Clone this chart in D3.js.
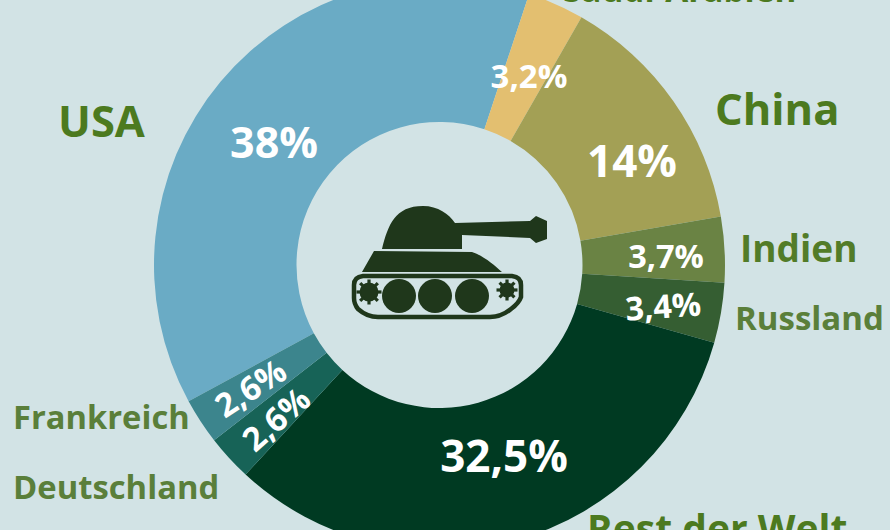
<!DOCTYPE html>
<html><head><meta charset="utf-8">
<script src="https://cdn.jsdelivr.net/npm/d3@7/dist/d3.min.js"></script>
<style>html,body{margin:0;padding:0;background:#d2e3e5;overflow:hidden}svg{display:block}text{font-family:"Open Sans",sans-serif}</style>
</head><body><svg id="c" width="890" height="530"></svg>
<script>
const categories = ["USA","Saudi-Arabien","China","Indien","Russland","Rest der Welt","Deutschland","Frankreich"];
const shares = [38,3.2,14,3.7,3.4,32.5,2.6,2.6];
const percentLabels = ["38%","3,2%","14%","3,7%","3,4%","32,5%","2,6%","2,6%"];
const colors = ["#6aabc5","#e3bf70","#a3a055","#6a8344","#355e32","#003a22","#176357","#3c858d"];

const W=890,H=530,cx=439.5,cy=265,outer=285.5,inner=143;
const svg=d3.select("#c");
svg.append("rect").attr("width",W).attr("height",H).attr("fill","#d2e3e5");
const startA=(18.3-136.8)*Math.PI/180;
const pie=d3.pie().sort(null).value(d=>d).startAngle(startA).endAngle(startA+2*Math.PI);
const arc=d3.arc().innerRadius(inner).outerRadius(outer);
const g=svg.append("g").attr("transform",`translate(${cx},${cy})`);
g.selectAll("path").data(pie(shares)).join("path").attr("d",arc).attr("fill",(d,i)=>colors[i]);

// percent labels: [x, y, size, rotation]
const pctLayout=[[274,158,43,0],[529,88,33,0],[632,177,44,0],[666,268,32.5,0],[664,318,32.5,-4],[504,472,44,0],[257,398,33,-33],[284,428,33,-41]];
svg.append("g").selectAll("text").data(percentLabels).join("text")
 .attr("text-anchor","middle").attr("font-weight",700).attr("fill","#fff")
 .attr("font-size",(d,i)=>pctLayout[i][2])
 .attr("transform",(d,i)=>`translate(${pctLayout[i][0]},${pctLayout[i][1]}) rotate(${pctLayout[i][3]})`)
 .text(d=>d);

// category labels: [x, y, size, colour]
const catLayout=[[58,137,43.5,"#4c7a1f"],[563,2,33.3,"#4c7a1f"],[715,125,43.5,"#4c7a1f"],[740,262,37,"#527c28"],[735,330,33,"#5a7f3a"],[587,543,39,"#4c7a1f"],[13,499,32.8,"#5a7f3a"],[13,429,32.7,"#5a7f3a"]];
svg.append("g").selectAll("text").data(categories).join("text")
 .attr("font-weight",700).attr("x",(d,i)=>catLayout[i][0]).attr("y",(d,i)=>catLayout[i][1])
 .attr("font-size",(d,i)=>catLayout[i][2]).attr("fill",(d,i)=>catLayout[i][3]).text(d=>d);

// tank icon
const tank=svg.append("g").attr("fill","#1f371b");
tank.append("path").attr("d","M382,249 C388,225 395,206 423,206 C438,206 449,214 455,223 L530,221 L536,216 L547,221 L547,239 L536,243 L530,238 L462,235 L462,249 Z");
tank.append("path").attr("d","M374,251 L472,252 C484,256 494,265 502,272 L362,272 Z");
tank.append("path").attr("fill","none").attr("stroke","#1f371b").attr("stroke-width",4.5)
 .attr("d","M363,276 L512,276 Q521,277 521,285 L521,297 Q519,303 511,309 Q501,317 490,317 L378,317 Q367,317 358,309 Q354,304 354,298 L354,285 Q354,277 363,276 Z");
[399,435,472].forEach(x=>tank.append("circle").attr("cx",x).attr("cy",296).attr("r",17));
[[369,292,9.5],[507,290,7.5]].forEach(([x,y,r])=>{
  tank.append("circle").attr("cx",x).attr("cy",y).attr("r",r);
  d3.range(8).forEach(k=>tank.append("rect").attr("x",x-1.6).attr("y",y-r-3).attr("width",3.2).attr("height",5)
    .attr("transform",`rotate(${k*45} ${x} ${y})`));
});
</script></body></html>
